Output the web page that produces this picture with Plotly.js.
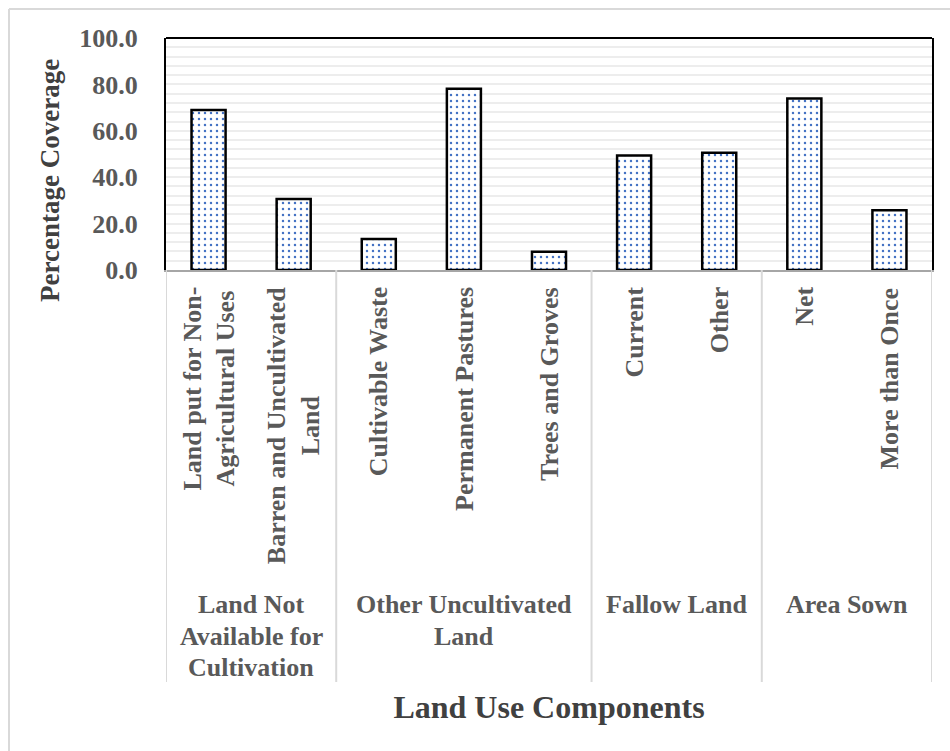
<!DOCTYPE html>
<html>
<head>
<meta charset="utf-8">
<script src="https://cdn.plot.ly/plotly-3.0.1.min.js"></script>
<style>
  html, body { margin: 0; padding: 0; background: #ffffff; overflow: hidden; }
  #chart { width: 950px; height: 751px; }
</style>
</head>
<body>
<div id="chart"></div>
<script>
// ---- data ----
const categories = [
  "Land put for Non-Agricultural Uses",
  "Barren and Uncultivated Land",
  "Cultivable Waste",
  "Permanent Pastures",
  "Trees and Groves",
  "Current",
  "Other",
  "Net",
  "More than Once"
];
const categoryLabels = [
  "Land put for Non-<br>Agricultural Uses",
  "Barren and Uncultivated<br>Land",
  "Cultivable Waste",
  "Permanent Pastures",
  "Trees and Groves",
  "Current",
  "Other",
  "Net",
  "More than Once"
];
const percentCoverage = [69.0, 30.6, 13.4, 78.1, 7.9, 49.3, 50.5, 73.9, 25.8];
const groupLines = [
  ["Land Not", "Available for", "Cultivation"],
  ["Other Uncultivated", "Land"],
  ["Fallow Land"],
  ["Area Sown"]
];
const groupSizes = [2, 3, 2, 2];
const yTickValues = [0, 20, 40, 60, 80, 100];
const yTickLabels = ["0.0", "20.0", "40.0", "60.0", "80.0", "100.0"];
const xTitle = "Land Use Components";
const yTitle = "Percentage Coverage";

// ---- layout helpers ----
const FONT = 'Liberation Serif, Times New Roman, serif';
const plotTopPx = 38, plotBottomPx = 270, plotLeftPx = 166, plotRightPx = 932;
const plotH = plotBottomPx - plotTopPx, plotW = plotRightPx - plotLeftPx;
const pyPaper = px => (plotBottomPx - px) / plotH;
const pxPaper = px => (px - plotLeftPx) / plotW;

const trace = {
  type: 'bar',
  x: categories,
  y: percentCoverage,
  width: 0.4,
  marker: {
    color: '#ffffff',
    line: { color: '#000000', width: 2.5 },
    pattern: { shape: '.', fgcolor: '#4472c4', bgcolor: '#ffffff', size: 6, solidity: 0.13 }
  },
  hoverinfo: 'x+y'
};

const annotations = [];
categories.forEach((c, i) => {
  annotations.push({
    x: c, xref: 'x', y: pyPaper(285), yref: 'paper',
    text: categoryLabels[i], textangle: -90, showarrow: false,
    xanchor: 'center', yanchor: 'top', align: 'center',
    font: { family: FONT, size: 26, color: '#595959', weight: 'bold' }
  });
});

const shapes = [];
let start = 0;
const boundaries = [-0.5];
groupSizes.forEach((n, g) => {
  const center = start + (n - 1) / 2;
  groupLines[g].forEach((line, k) => {
    annotations.push({
      x: center, xref: 'x', y: pyPaper(605 + 31 * k), yref: 'paper',
      text: line, showarrow: false,
      xanchor: 'center', yanchor: 'middle', align: 'center',
      font: { family: FONT, size: 26, color: '#595959', weight: 'bold' }
    });
  });
  start += n;
  boundaries.push(start - 0.5);
});
boundaries.forEach(b => {
  shapes.push({
    type: 'line', xref: 'x', yref: 'paper',
    x0: b, x1: b, y0: 0, y1: pyPaper(682),
    line: { color: '#d9d9d9', width: 2 }
  });
});
// y-axis title
annotations.push({
  x: pxPaper(50), xref: 'paper', y: pyPaper(181), yref: 'paper',
  text: yTitle, textangle: -90, showarrow: false,
  xanchor: 'center', yanchor: 'middle',
  font: { family: FONT, size: 27, color: '#404040', weight: 'bold' }
});
// top frame line of plot area
shapes.push({
  type: 'line', xref: 'paper', yref: 'paper',
  x0: 0, x1: 1, y0: 1, y1: 1,
  line: { color: '#000000', width: 2 }
});
// outer chart border (left and top visible)
shapes.push({
  type: 'line', xref: 'paper', yref: 'paper',
  x0: pxPaper(9), x1: pxPaper(9), y0: pyPaper(9), y1: pyPaper(800),
  line: { color: '#d9d9d9', width: 2 }
});
shapes.push({
  type: 'line', xref: 'paper', yref: 'paper',
  x0: pxPaper(9), x1: pxPaper(1000), y0: pyPaper(9), y1: pyPaper(9),
  line: { color: '#d9d9d9', width: 2 }
});

const layout = {
  width: 950, height: 751,
  margin: { l: plotLeftPx, r: 950 - plotRightPx, t: plotTopPx, b: 751 - plotBottomPx, pad: 0 },
  paper_bgcolor: '#ffffff', plot_bgcolor: '#ffffff',
  showlegend: false,
  bargap: 0.6,
  xaxis: {
    type: 'category',
    showticklabels: false,
    ticks: '',
    showgrid: false,
    showline: true, linecolor: '#a6a6a6', linewidth: 2,
    range: [-0.5, 8.5],
    fixedrange: true,
    title: {
      text: xTitle,
      standoff: 425,
      font: { family: FONT, size: 32, color: '#404040', weight: 'bold' }
    }
  },
  yaxis: {
    range: [0, 100],
    tickvals: yTickValues,
    ticktext: yTickLabels,
    ticks: '',
    ticklabelstandoff: 21,
    tickfont: { family: FONT, size: 26, color: '#595959', weight: 'bold' },
    showgrid: true, gridcolor: '#ededed', gridwidth: 2,
    minor: { dtick: 4, tick0: 0, showgrid: true, gridcolor: '#ededed', gridwidth: 2, ticks: '' },
    zeroline: false,
    showline: true, mirror: true, linecolor: '#000000', linewidth: 2,
    fixedrange: true
  },
  annotations: annotations,
  shapes: shapes
};

Plotly.newPlot('chart', [trace], layout, { displayModeBar: false, staticPlot: true });
</script>
</body>
</html>
